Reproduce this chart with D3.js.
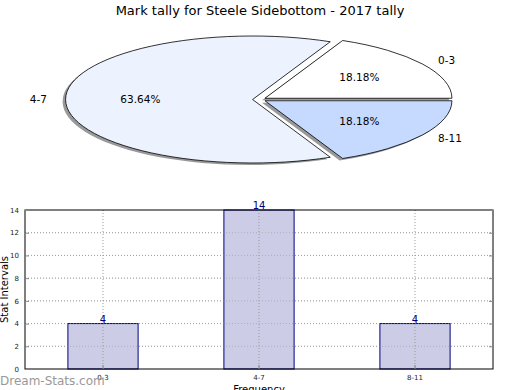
<!DOCTYPE html>
<html>
<head>
<meta charset="utf-8">
<script src="https://cdn.jsdelivr.net/npm/d3@7"></script>
<style>
body { margin: 0; background: #fff; }
svg { font-family: "DejaVu Sans", sans-serif; }
</style>
</head>
<body>
<div id="chart"></div>
<script>
// chart data
var categories = ['0-3', '4-7', '8-11'];
var counts = [4, 14, 4];
var sliceColors = ['#ffffff', '#edf2ff', '#c6d9ff'];
var yTicks = [0, 2, 4, 6, 8, 10, 12, 14];

var w = 520, h = 390;

var svg = d3.select('#chart').append('svg')
	.attr('width', w)
	.attr('height', h);

svg.append('text')
	.attr('x', 260).attr('y', 15)
	.attr('text-anchor', 'middle')
	.style('font-size', '13px')
	.text('Mark tally for Steele Sidebottom - 2017 tally');

// ---- pie (matplotlib style: starts at 3 o'clock, counterclockwise, squashed) ----
var cx = 259.3, cy = 99.5, rx = 187, ry = 63.5, explode = 0.036;
var yk = ry / rx;
var total = d3.sum(counts);

var pie = d3.pie().sort(null)
	.startAngle(Math.PI / 2)
	.endAngle(Math.PI / 2 - 2 * Math.PI);
var arc = d3.arc().innerRadius(0).outerRadius(rx);
var arcs = pie(counts);

function offset(d, k) {
	var m = (d.startAngle + d.endAngle) / 2;
	return [k * rx * Math.sin(m), -k * rx * Math.cos(m)];
}

var pieG = svg.append('g');

// shadows first
pieG.selectAll('path.shadow')
	.data(arcs)
  .enter().append('path')
	.attr('class', 'shadow')
	.attr('d', arc)
	.attr('transform', function(d) {
		var o = offset(d, explode);
		return 'translate(' + (cx + o[0] - 3) + ',' + (cy + o[1] * yk + 2) + ') scale(1,' + yk + ')';
	})
	.attr('fill', '#000')
	.attr('fill-opacity', 0.4);

pieG.selectAll('path.slice')
	.data(arcs)
  .enter().append('path')
	.attr('class', 'slice')
	.attr('d', arc)
	.attr('transform', function(d) {
		var o = offset(d, explode);
		return 'translate(' + (cx + o[0]) + ',' + (cy + o[1] * yk) + ') scale(1,' + yk + ')';
	})
	.attr('fill', function(d, i) { return sliceColors[i]; })
	.attr('stroke', '#000')
	.attr('stroke-width', 0.8)
	.attr('vector-effect', 'non-scaling-stroke');

// category labels (labeldistance 1.1) and percentages (pctdistance 0.6)
arcs.forEach(function(d, i) {
	var o = offset(d, explode);
	var l = offset(d, 1.1);
	var p = offset(d, 0.6);
	var bx = cx + o[0], by = cy + o[1] * yk;
	svg.append('text')
		.attr('x', bx + l[0]).attr('y', by + l[1] * yk)
		.attr('dy', '0.35em')
		.attr('text-anchor', l[0] > 0 ? 'start' : 'end')
		.style('font-size', '10.5px')
		.text(categories[i]);
	svg.append('text')
		.attr('x', bx + p[0]).attr('y', by + p[1] * yk)
		.attr('dy', '0.35em')
		.attr('text-anchor', 'middle')
		.style('font-size', '10.5px')
		.text((counts[i] / total * 100).toFixed(2) + '%');
});

// ---- bar chart ----
var plotL = 25, plotR = 493, plotT = 210, plotB = 369;

var x = d3.scaleBand()
	.domain(categories)
	.range([plotL, plotR])
	.paddingInner(0.55)
	.paddingOuter(0.275);

var y = d3.scaleLinear()
	.domain([0, 14])
	.range([plotB, plotT]);

var innerTicks = yTicks.slice(1, -1);

svg.append('g')
	.attr('stroke', '#aaa')
	.attr('stroke-dasharray', '1,2')
  .selectAll('line')
	.data(innerTicks)
  .enter().append('line')
	.attr('x1', plotL).attr('x2', plotR)
	.attr('y1', function(d) { return y(d); })
	.attr('y2', function(d) { return y(d); });

svg.selectAll('rect.bar')
	.data(counts)
  .enter().append('rect')
	.attr('class', 'bar')
	.attr('x', function(d, i) { return x(categories[i]); })
	.attr('y', function(d) { return y(d); })
	.attr('width', x.bandwidth())
	.attr('height', function(d) { return plotB - y(d); })
	.attr('fill', '#cccce6')
	.attr('stroke', '#000080')
	.attr('stroke-width', 1);

// grid is drawn above the bars too (faintly), like matplotlib
svg.append('g')
	.attr('stroke', '#999')
	.attr('stroke-dasharray', '1,2')
  .selectAll('line')
	.data(innerTicks)
  .enter().append('line')
	.attr('x1', plotL).attr('x2', plotR)
	.attr('y1', function(d) { return y(d); })
	.attr('y2', function(d) { return y(d); })
	.attr('stroke-opacity', 0.6);

svg.append('g')
	.attr('stroke', '#999')
	.attr('stroke-dasharray', '1,2')
  .selectAll('line')
	.data(categories)
  .enter().append('line')
	.attr('x1', function(d) { return x(d) + x.bandwidth() / 2; })
	.attr('x2', function(d) { return x(d) + x.bandwidth() / 2; })
	.attr('y1', plotT).attr('y2', plotB);

svg.selectAll('text.val')
	.data(counts)
  .enter().append('text')
	.attr('class', 'val')
	.attr('x', function(d, i) { return x(categories[i]) + x.bandwidth() / 2; })
	.attr('y', function(d) { return y(d) - 1; })
	.attr('text-anchor', 'middle')
	.attr('fill', '#000080')
	.style('font-size', '10px')
	.text(function(d) { return d; });

// axes frame
svg.append('rect')
	.attr('x', plotL).attr('y', plotT)
	.attr('width', plotR - plotL).attr('height', plotB - plotT)
	.attr('fill', 'none')
	.attr('stroke', '#000')
	.attr('stroke-width', 1);

var yAxis = d3.axisLeft(y).tickValues(yTicks).tickSize(-4).tickPadding(6);
var yAxisR = d3.axisRight(y).tickValues(yTicks).tickSize(-4).tickFormat('');
var xAxis = d3.axisBottom(x).tickSize(-4).tickPadding(6);

var gy = svg.append('g').attr('transform', 'translate(' + plotL + ',0)').call(yAxis);
var gyr = svg.append('g').attr('transform', 'translate(' + plotR + ',0)').call(yAxisR);
var gx = svg.append('g').attr('transform', 'translate(0,' + plotB + ')').call(xAxis);

[gy, gyr, gx].forEach(function(g) {
	g.select('.domain').remove();
	g.selectAll('.tick line').attr('stroke', '#888');
	g.selectAll('.tick text')
		.attr('fill', '#222')
		.style('font-size', '7px')
		.style('font-family', '"DejaVu Sans", sans-serif');
});

svg.append('text')
	.attr('transform', 'translate(8,' + ((plotT + plotB) / 2) + ') rotate(-90)')
	.attr('text-anchor', 'middle')
	.style('font-size', '10px')
	.text('Stat Intervals');

svg.append('text')
	.attr('x', (plotL + plotR) / 2).attr('y', 393)
	.attr('text-anchor', 'middle')
	.style('font-size', '10px')
	.text('Frequency');

svg.append('text')
	.attr('x', 0).attr('y', 385)
	.attr('fill', '#999')
	.style('font-size', '12px')
	.text('Dream-Stats.com');
</script>
</body>
</html>
